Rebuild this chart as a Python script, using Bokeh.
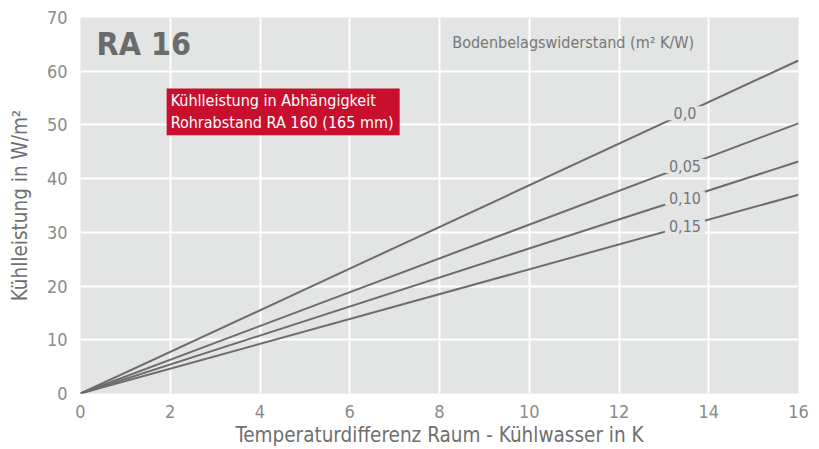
from bokeh.plotting import figure
from bokeh.models import Range1d, Label, FixedTicker
from bokeh.embed import file_html
from bokeh.resources import INLINE

# ---- data ----
x_vals = [0, 16]
series_names = ["0,0", "0,05", "0,10", "0,15"]
series_values = [
    [0, 62.0],
    [0, 50.3],
    [0, 43.2],
    [0, 37.0],
]
x_ticks = [0, 2, 4, 6, 8, 10, 12, 14, 16]
y_ticks = [0, 10, 20, 30, 40, 50, 60, 70]
label_x = 13.47
label_hpad = [8, 4, 4, 4]

FONT = "DejaVu Sans Condensed"
BG = "#e3e4e4"
LINE = "#6d6d6d"
TXT = "#777777"

p = figure(width=819, height=449, output_backend="svg", toolbar_location=None,
           x_range=Range1d(0, 16), y_range=Range1d(0, 70),
           min_border_left=80, min_border_right=21, min_border_top=17, min_border_bottom=55)
p.outline_line_color = None
p.background_fill_color = BG
p.border_fill_color = "white"

for g in (p.xgrid, p.ygrid):
    g.grid_line_color = "white"
    g.grid_line_width = 2
p.xgrid.ticker = FixedTicker(ticks=x_ticks)
p.ygrid.ticker = FixedTicker(ticks=y_ticks)

p.xaxis.ticker = FixedTicker(ticks=x_ticks)
p.yaxis.ticker = FixedTicker(ticks=y_ticks)
for ax in (p.xaxis, p.yaxis):
    ax.axis_line_color = None
    ax.major_tick_line_color = None
    ax.minor_tick_line_color = None
    ax.major_label_text_font = FONT
    ax.major_label_text_font_size = "18px"
    ax.major_label_text_color = "#8a8a8a"
    ax.axis_label_text_font = FONT
    ax.axis_label_text_font_style = "normal"
    ax.axis_label_text_color = "#707070"
    ax.axis_label_text_font_size = "20.5px"
p.xaxis.major_label_standoff = 5
p.yaxis.major_label_standoff = 7
p.xaxis.axis_label = "Temperaturdifferenz Raum - Kühlwasser in K"
p.yaxis.axis_label = "Kühlleistung in W/m²"
p.xaxis.axis_label_standoff = 2
p.yaxis.axis_label_standoff = 12

for name, vals, hp in zip(series_names, series_values, label_hpad):
    p.line(x_vals, vals, line_color=LINE, line_width=2)
    ly = vals[0] + (vals[1] - vals[0]) * (label_x - x_vals[0]) / (x_vals[1] - x_vals[0])
    p.add_layout(Label(x=label_x, y=ly, text=name, text_align="center", text_baseline="middle",
                       text_font=FONT, text_font_size="16px", text_color=TXT,
                       background_fill_color=BG,
                       padding=dict(left=hp, right=hp, top=1, bottom=1)))

p.add_layout(Label(x=0.357, y=65.0, text="RA 16", text_align="left", text_baseline="middle",
                   text_font=FONT, text_font_size="32px", text_font_style="bold",
                   text_color="#6b6b6b"))

p.add_layout(Label(x=10.98, y=65.4, text="Bodenbelagswiderstand (m² K/W)", text_align="center",
                   text_baseline="middle", text_font=FONT, text_font_size="16px", text_color=TXT))

p.add_layout(Label(x=1.92, y=56.8, text="Kühlleistung in Abhängigkeit\nRohrabstand RA 160 (165 mm)",
                   text_align="left", text_baseline="top", text_font=FONT, text_font_size="16px",
                   text_color="white", background_fill_color="#c8102e",
                   padding=dict(left=4, right=6, top=3, bottom=3),
                   text_line_height=1.15))

open("out.html", "w").write(file_html(p, INLINE))
